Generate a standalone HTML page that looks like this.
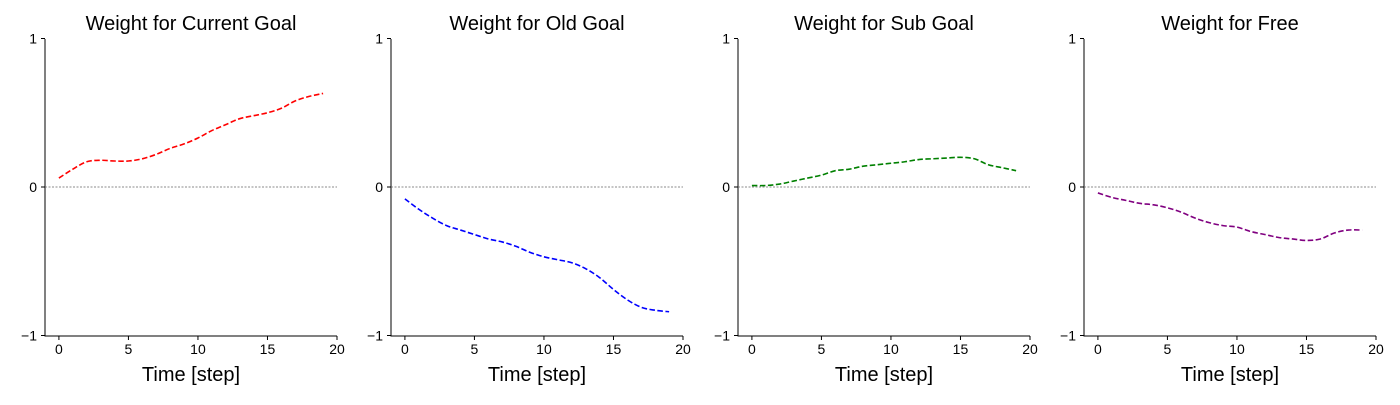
<!DOCTYPE html>
<html><head><meta charset="utf-8"><style>
body{margin:0;background:#fff;width:1400px;height:400px;overflow:hidden}
svg text{font-family:"Liberation Sans","DejaVu Sans",sans-serif}
</style></head><body>
<svg id="c" width="1400" height="400"></svg>
<script>
const titles=["Weight for Current Goal","Weight for Old Goal","Weight for Sub Goal","Weight for Free"];
const colors=["red","blue","green","purple"];
const steps=[0,1,2,3,4,5,6,7,8,9,10,11,12,13,14,15,16,17,18,19];
const currentGoal=[0.06,0.12,0.17,0.18,0.175,0.175,0.19,0.22,0.26,0.29,0.33,0.38,0.42,0.46,0.48,0.5,0.53,0.58,0.61,0.63];
const oldGoal=[-0.08,-0.15,-0.21,-0.26,-0.29,-0.32,-0.35,-0.37,-0.40,-0.44,-0.47,-0.49,-0.51,-0.55,-0.61,-0.69,-0.76,-0.81,-0.83,-0.84];
const subGoal=[0.01,0.01,0.02,0.04,0.06,0.08,0.11,0.12,0.14,0.15,0.16,0.17,0.185,0.19,0.195,0.2,0.19,0.15,0.13,0.11];
const freeW=[-0.04,-0.07,-0.09,-0.11,-0.12,-0.14,-0.17,-0.21,-0.24,-0.26,-0.27,-0.3,-0.32,-0.34,-0.35,-0.36,-0.35,-0.31,-0.29,-0.29];
const series=[currentGoal,oldGoal,subGoal,freeW];
const xTicks=[0,5,10,15,20];
const yTicks=[-1,0,1];
const yLabels=["\u22121","0","1"];
const names=["current-goal","old-goal","sub-goal","free"];
const NS="http://www.w3.org/2000/svg";
const svg=document.getElementById("c");
function mk(t,a,p){const e=document.createElementNS(NS,t);for(const k in a)e.setAttribute(k,a[k]);(p||svg).appendChild(e);return e;}
const lefts=[45,391,738,1084];
const W=292,axTop=39,axBot=336;
lefts.forEach((L,i)=>{
  const g=mk("g",{});
  
  
  const xs=v=>L+(v+1)/21*W;
  const ys=v=>187-v*148.5;
  const t=mk("text",{x:L+W/2,y:30,"text-anchor":"middle","font-size":"20"},g);t.textContent=titles[i];
  
  
  const ax=mk("path",{d:`M${L},${axTop}V${axBot}H${L+W}`,stroke:"#000",fill:"none","stroke-width":1},g);
  
  
  xTicks.forEach(v=>{const x=xs(v);mk("line",{x1:x,x2:x,y1:axBot,y2:axBot+4,stroke:"#000"},g);
    const tt=mk("text",{x:x,y:axBot+18,"text-anchor":"middle","font-size":"14"},g);tt.textContent=v;
    
    });
  yTicks.forEach((v,k)=>{const y=ys(v);mk("line",{x1:L-4,x2:L,y1:y,y2:y,stroke:"#000"},g);
    const tt=mk("text",{x:L-8,y:y+5,"text-anchor":"end","font-size":"14"},g);tt.textContent=yLabels[k];
    
    });
  const xl=mk("text",{x:L+W/2,y:381,"text-anchor":"middle","font-size":"20"},g);xl.textContent="Time [step]";
  
  
  const z=mk("line",{x1:L,x2:L+W,y1:ys(0),y2:ys(0),stroke:"#666","stroke-width":0.8,"stroke-dasharray":"2,1.5"},g);
  
  
  const d=series[i];const P=steps.map((s,k)=>[xs(s),ys(d[k])]);
  let p=`M${P[0][0]},${P[0][1]}`;
  for(let k=0;k<P.length-1;k++){const p0=P[Math.max(0,k-1)],p1=P[k],p2=P[k+1],p3=P[Math.min(P.length-1,k+2)];
    p+=`C${p1[0]+(p2[0]-p0[0])/6},${p1[1]+(p2[1]-p0[1])/6} ${p2[0]-(p3[0]-p1[0])/6},${p2[1]-(p3[1]-p1[1])/6} ${p2[0]},${p2[1]}`;}
  const ln=mk("path",{d:p,stroke:colors[i],fill:"none","stroke-width":1.6,"stroke-dasharray":"5.5,2.5"},g);
  
  
});
</script></body></html>
